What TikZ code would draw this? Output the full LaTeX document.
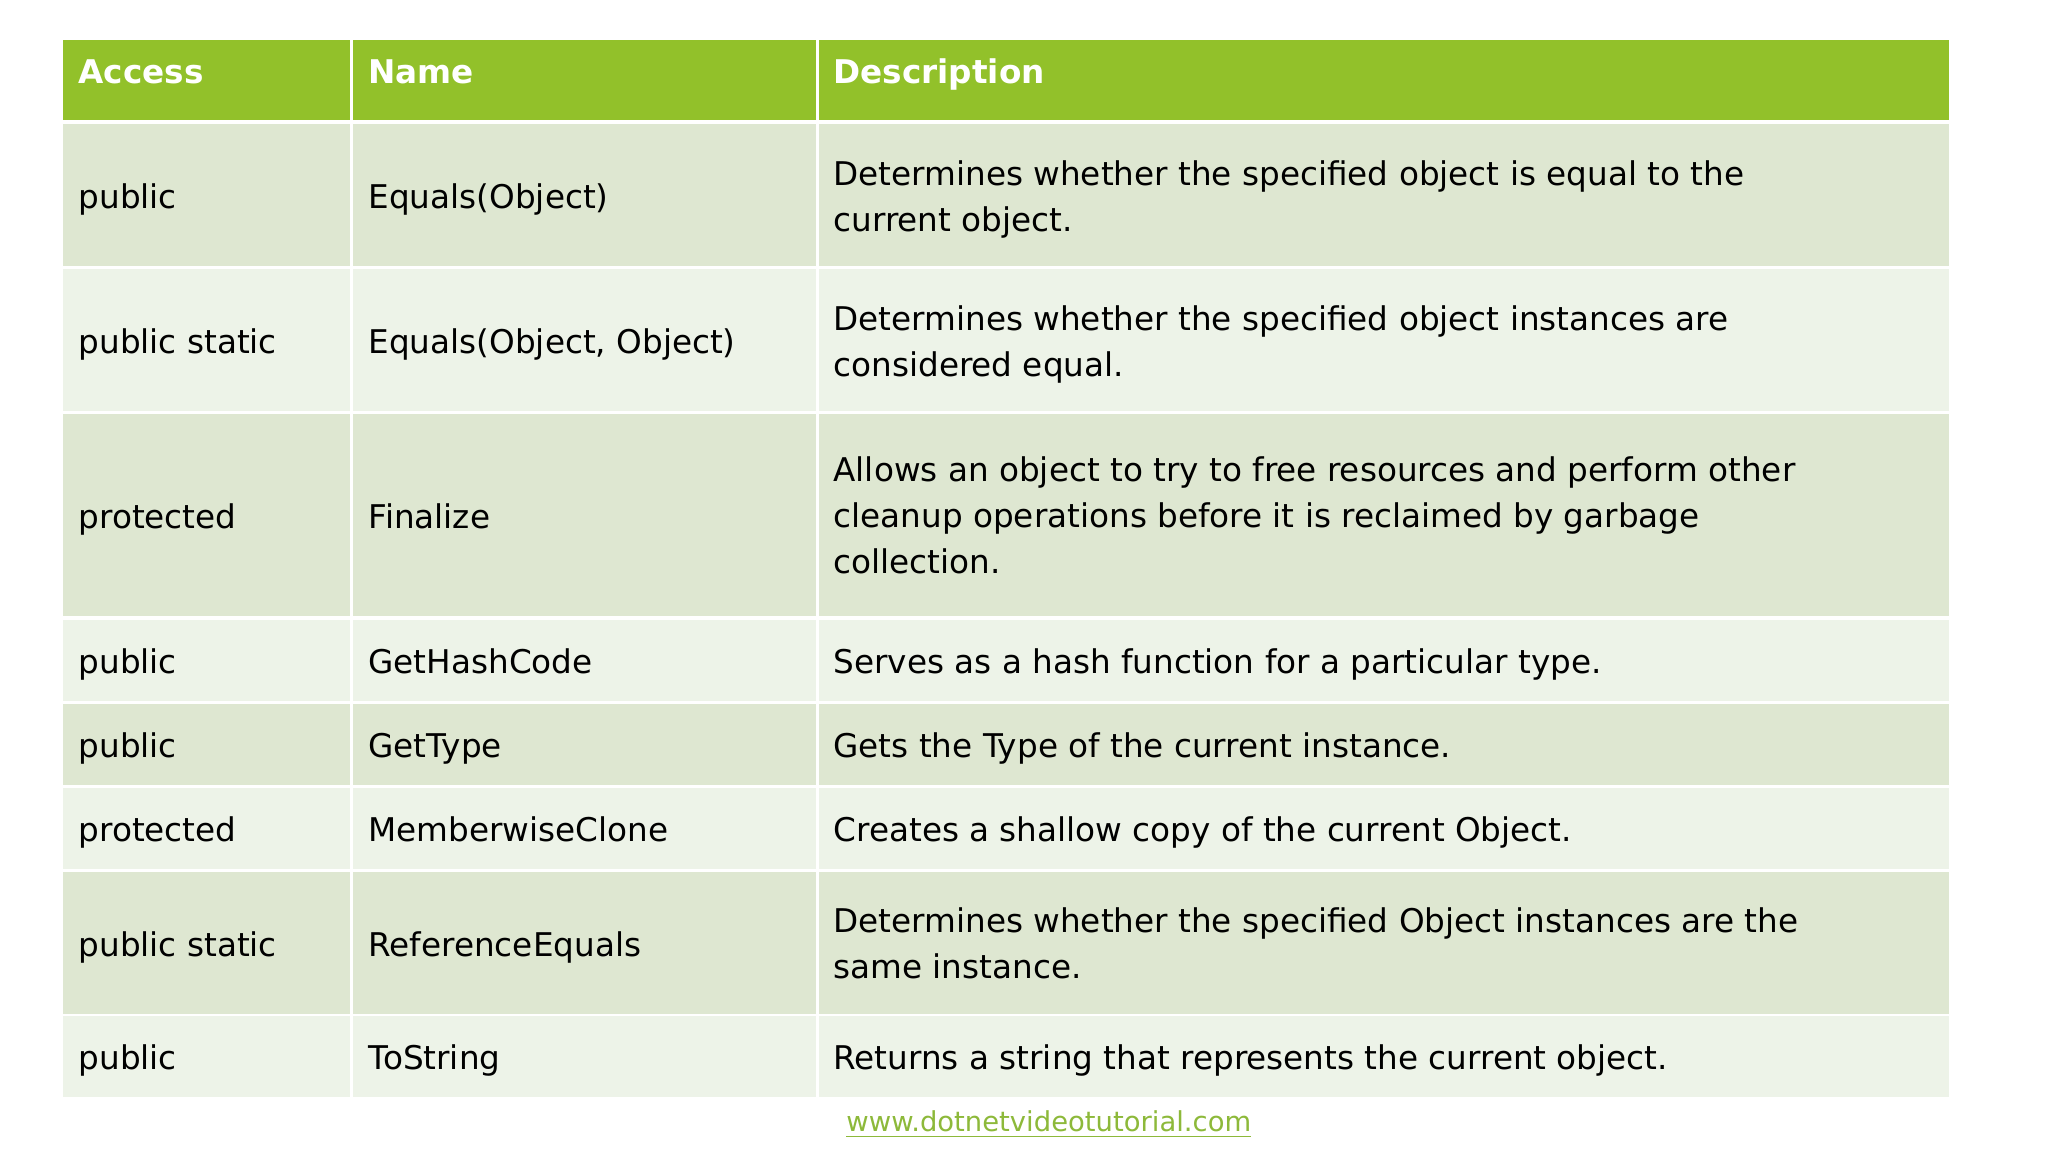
\documentclass[tikz,border=0pt]{standalone}
\usepackage{fontspec}
\setmainfont{DejaVu Sans}
\usepackage{tikz}
\definecolor{headgreen}{HTML}{92C12A}
\definecolor{rowdark}{HTML}{DEE7D1}
\definecolor{rowlight}{HTML}{EDF3E8}
\definecolor{linkgreen}{HTML}{8DB93A}
\begin{document}
\begin{tikzpicture}[x=1pt, y=-1pt,
            cell/.style={anchor=base west, inner sep=0, font=\fontsize{25}{35}\selectfont, align=left},
            head/.style={cell, text=white, font=\fontsize{25}{35}\selectfont\bfseries}]
        \useasboundingbox (0,0) rectangle (1568,882);
        \fill [white] (0,0) rectangle (1568,882);
        % header
        \fill [headgreen] (48,31) rectangle (268,92);
        \fill [headgreen] (270,31) rectangle (625,92);
        \fill [headgreen] (627,31) rectangle (1492,92);
        % rows
        \foreach \ya/\yb/\c in {95/204/rowdark, 206/315/rowlight, 317/472/rowdark, 475/537/rowlight,
                               539/601/rowdark, 603/665/rowlight, 668/776/rowdark, 778/840/rowlight} {
            \fill [\c] (48,\ya) rectangle (268,\yb);
            \fill [\c] (270,\ya) rectangle (625,\yb);
            \fill [\c] (627,\ya) rectangle (1492,\yb);
        }
        \node (h1) [head] at (60,64) {Access};
        \node (h2) [head] at (282,64) {Name};
        \node (h3) [head] at (638,64) {Description};

        \node (a1) [cell] at (60,160) {public};
        \node (n1) [cell] at (282,160) {Equals(Object)};
        \node (d1) [cell] at (638,177) {Determines whether the specified object is equal to the\\current object.};

        \node (a2) [cell] at (60,271) {public static};
        \node (n2) [cell] at (282,271) {Equals(Object, Object)};
        \node (d2) [cell] at (638,288) {Determines whether the specified object instances are\\considered equal.};

        \node (a3) [cell] at (60,405) {protected};
        \node (n3) [cell] at (282,405) {Finalize};
        \node (d3) [cell] at (638,439) {Allows an object to try to free resources and perform other\\cleanup operations before it is reclaimed by garbage\\collection.};

        \node (a4) [cell] at (60,516) {public};
        \node (n4) [cell] at (282,516) {GetHashCode};
        \node (d4) [cell] at (638,516) {Serves as a hash function for a particular type.};

        \node (a5) [cell] at (60,580) {public};
        \node (n5) [cell] at (282,580) {GetType};
        \node (d5) [cell] at (638,580) {Gets the Type of the current instance.};

        \node (a6) [cell] at (60,644) {protected};
        \node (n6) [cell] at (282,644) {MemberwiseClone};
        \node (d6) [cell] at (638,644) {Creates a shallow copy of the current Object.};

        \node (a7) [cell] at (60,732) {public static};
        \node (n7) [cell] at (282,732) {ReferenceEquals};
        \node (d7) [cell] at (638,749) {Determines whether the specified Object instances are the\\same instance.};

        \node (a8) [cell] at (60,819) {public};
        \node (n8) [cell] at (282,819) {ToString};
        \node (d8) [cell] at (638,819) {Returns a string that represents the current object.};

        \node (link) [anchor=base, inner sep=0, text=linkgreen, font=\fontsize{21}{26}\selectfont] at (803,866) {www.dotnetvideotutorial.com};
        \draw [linkgreen, line width=1.2] ([yshift=-4]link.base west) -- ([yshift=-4]link.base east);
\end{tikzpicture}
\end{document}
